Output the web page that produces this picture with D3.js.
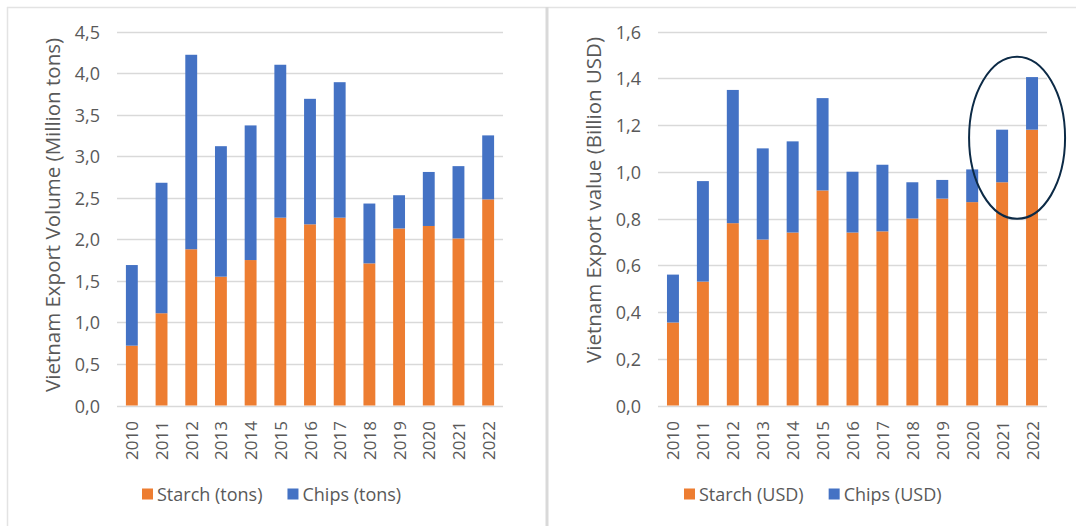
<!DOCTYPE html>
<html>
<head>
<meta charset="utf-8">
<script src="https://d3js.org/d3.v7.min.js"></script>
<style>
  body { margin: 0; background: #fff; }
  svg { font-family: 'Open Sans', sans-serif; }
</style>
</head>
<body>
<svg id="svg" width="1076" height="526"></svg>
<script>
// data
const years = ["2010","2011","2012","2013","2014","2015","2016","2017","2018","2019","2020","2021","2022"];

// left panel: volume, million tons
const starchTons = [0.72, 1.11, 1.88, 1.55, 1.75, 2.26, 2.18, 2.26, 1.71, 2.13, 2.16, 2.01, 2.48];
const chipsTons  = [0.97, 1.57, 2.34, 1.57, 1.62, 1.84, 1.51, 1.63, 0.72, 0.40, 0.65, 0.87, 0.77];
const volTicks = [0, 0.5, 1, 1.5, 2, 2.5, 3, 3.5, 4, 4.5];

// right panel: value, billion USD
const starchUsd = [0.355, 0.53, 0.78, 0.71, 0.74, 0.92, 0.74, 0.745, 0.80, 0.885, 0.87, 0.955, 1.18];
const chipsUsd  = [0.205, 0.43, 0.57, 0.39, 0.39, 0.395, 0.26, 0.285, 0.155, 0.08, 0.14, 0.225, 0.225];
const valTicks = [0, 0.2, 0.4, 0.6, 0.8, 1.0, 1.2, 1.4, 1.6];

const orange = "#ed7d31", blue = "#4472c4", grid = "#d9d9d9", txt = "#595959";
const svg = d3.select("#svg");

// panel frame lines
svg.append("line").attr("x1", 7).attr("x2", 1076).attr("y1", 7.5).attr("y2", 7.5)
  .attr("stroke", "#e3e3e3").attr("stroke-width", 1.5);
svg.append("line").attr("x1", 7.5).attr("x2", 7.5).attr("y1", 7).attr("y2", 526)
  .attr("stroke", "#e3e3e3").attr("stroke-width", 1.5);
svg.append("line").attr("x1", 547).attr("x2", 547).attr("y1", 7).attr("y2", 526)
  .attr("stroke", "#d9d9d9").attr("stroke-width", 3);

function drawPanel(p) {
  const x = d3.scaleBand().domain(years).range([p.x0, p.x1])
    .paddingInner(0.6).paddingOuter(0.3);
  const y = d3.scaleLinear().domain([0, p.max]).range([405.5, 31.5]);
  const g = svg.append("g");

  // gridlines
  g.selectAll(".grid").data(p.ticks).join("line")
    .attr("x1", p.x0).attr("x2", p.x1)
    .attr("y1", d => Math.round(y(d)) + 0.5).attr("y2", d => Math.round(y(d)) + 0.5)
    .attr("stroke", grid).attr("stroke-width", 1.3);

  // y tick labels, comma decimals
  g.selectAll(".yt").data(p.ticks).join("text")
    .attr("x", p.x0 - 17).attr("y", d => y(d))
    .attr("text-anchor", "end").attr("dominant-baseline", "central")
    .attr("font-size", 18).attr("fill", txt)
    .text(d => d3.format(p.fmt)(d).replace(".", ","));

  // stacked bars
  const rows = years.map((yr, i) => ({ yr, s: p.starch[i], c: p.chips[i] }));
  g.selectAll(".st").data(rows).join("rect")
    .attr("x", d => x(d.yr)).attr("width", x.bandwidth())
    .attr("y", d => y(d.s)).attr("height", d => y(0) - y(d.s))
    .attr("fill", orange);
  g.selectAll(".ch").data(rows).join("rect")
    .attr("x", d => x(d.yr)).attr("width", x.bandwidth())
    .attr("y", d => y(d.s + d.c)).attr("height", d => y(d.s) - y(d.s + d.c))
    .attr("fill", blue);

  // x labels rotated
  g.selectAll(".xt").data(years).join("text")
    .attr("transform", d => `translate(${x(d) + x.bandwidth() / 2},421) rotate(-90)`)
    .attr("text-anchor", "end").attr("dominant-baseline", "central")
    .attr("font-size", 17).attr("fill", txt)
    .text(d => d);

  // axis title
  g.append("text")
    .attr("transform", `translate(${p.titleX},${p.titleY}) rotate(-90)`)
    .attr("text-anchor", "middle")
    .attr("font-size", 20.5).attr("fill", txt)
    .text(p.title);

  // legend
  const lg = g.append("g").attr("transform", `translate(${p.legX},494)`);
  const items = [{ c: orange, t: p.leg[0] }, { c: blue, t: p.leg[1] }];
  let off = 0;
  items.forEach((it, i) => {
    lg.append("rect").attr("x", off).attr("y", -5.5).attr("width", 11).attr("height", 11).attr("fill", it.c);
    const t = lg.append("text").attr("x", off + 15).attr("y", 0)
      .attr("dominant-baseline", "central").attr("font-size", 18).attr("fill", txt)
      .text(it.t);
    off += 15 + t.node().getComputedTextLength() + 25;
  });
  return { x, y };
}

drawPanel({
  x0: 117, x1: 503, max: 4.5, ticks: volTicks, fmt: ".1f",
  starch: starchTons, chips: chipsTons,
  title: "Vietnam Export Volume (Million tons)", titleX: 60, titleY: 215,
  leg: ["Starch (tons)", "Chips (tons)"], legX: 142
});

const right = drawPanel({
  x0: 658, x1: 1047, max: 1.6, ticks: valTicks, fmt: ".1f",
  starch: starchUsd, chips: chipsUsd,
  title: "Vietnam Export value (Billion USD)", titleX: 601, titleY: 200,
  leg: ["Starch (USD)", "Chips (USD)"], legX: 684
});

// highlight ellipse around 2021-2022
const ex = (right.x("2021") + right.x("2022") + right.x.bandwidth()) / 2;
svg.append("ellipse")
  .attr("cx", ex).attr("cy", right.y(1.145))
  .attr("rx", 48).attr("ry", 81)
  .attr("fill", "none").attr("stroke", "#0c2a46").attr("stroke-width", 2);
</script>
</body>
</html>
